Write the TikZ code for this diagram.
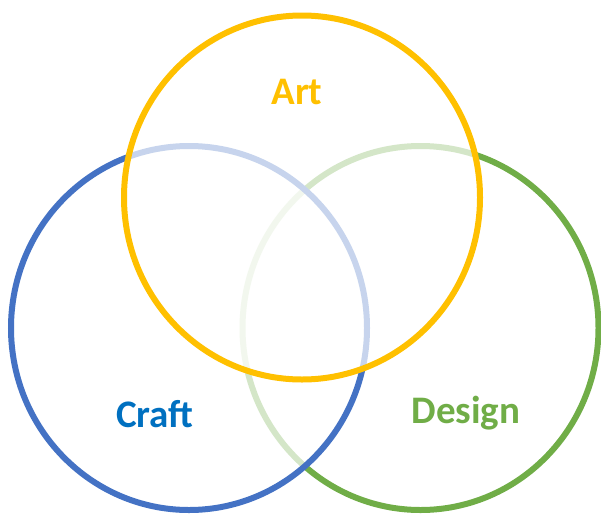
\documentclass[tikz,border=0pt]{standalone}
\usepackage{fontspec}
\setmainfont{Carlito}
\definecolor{artc}{HTML}{FFC000}
\definecolor{craftc}{HTML}{4472C4}
\definecolor{crafttxt}{HTML}{0070C0}
\definecolor{designc}{HTML}{70AD47}
\begin{document}
\begin{tikzpicture}[x=1pt,y=-1pt,
  ring/.style={line width=6pt},
  veil/.style={fill=white,fill opacity=0.7},
  lbl/.style={font=\fontsize{39}{41}\selectfont\bfseries,anchor=base,inner sep=0pt}]
\useasboundingbox (0,0) rectangle (601,514);
\draw[ring,designc] (420.5,328) ellipse [x radius=178pt, y radius=182pt];
\draw[ring,craftc,veil] (189,328) ellipse [x radius=178pt, y radius=182pt];
\draw[ring,artc,veil] (302,197.5) ellipse [x radius=178pt, y radius=182pt];
\node[lbl,text=artc] (art) at (297,104) {Art};
\node[lbl,text=crafttxt] (craft) at (155,427) {Craft};
\node[lbl,text=designc] (design) at (466,423) {Design};
\end{tikzpicture}
\end{document}
